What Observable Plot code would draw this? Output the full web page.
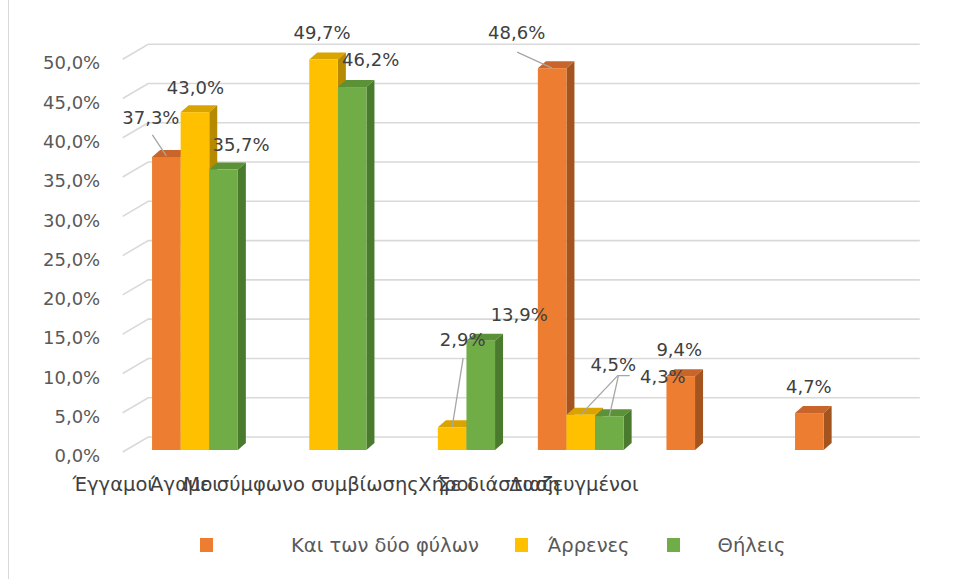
<!DOCTYPE html>
<html><head><meta charset="utf-8">
<script src="https://cdn.jsdelivr.net/npm/d3@7"></script>
<script src="https://cdn.jsdelivr.net/npm/@observablehq/plot@0.6"></script>
<style>
body{margin:0;background:#fff;font-family:"DejaVu Sans",sans-serif;}
#wrap{position:relative;width:955px;height:579px;overflow:hidden;background:#fff;}
#edge{position:absolute;left:8px;top:0;width:1px;height:579px;background:#d9d9d9;}
#chart{position:absolute;left:0;top:0;}
#legend{position:absolute;left:0;top:533px;height:24px;display:flex;align-items:center;font-size:19.5px;color:#595959;white-space:nowrap;}
#legend .sw{width:13px;height:14px;display:inline-block;}
</style></head><body>
<div id="wrap"><div id="edge"></div><div id="chart"></div><div id="legend"></div></div>
<script>
// ---- data ----
const categories = ["Έγγαμοι", "Άγαμοι", "Με σύμφωνο συμβίωσης", "Χήροι", "Σε διάσταση", "Διαζευγμένοι"];
const seriesNames = ["Και των δύο φύλων", "Άρρενες", "Θήλεις"];
const bothSexes = [37.3, null, null, 48.6, 9.4, 4.7];
const males     = [43.0, 49.7, 2.9, 4.5, null, null];
const females   = [35.7, 46.2, 13.9, 4.3, null, null];
const yTicks = [0, 5, 10, 15, 20, 25, 30, 35, 40, 45, 50];

// ---- styles ----
const frontColors = ["#ED7D31", "#FFC000", "#70AD47"];
const topColors   = ["#C9652A", "#D9A400", "#5B9238"];
const sideColors  = ["#A3541F", "#B58A00", "#4A7A2D"];
const FONT = "DejaVu Sans, sans-serif";

const seriesValues = [bothSexes, males, females];
const rows = [];
categories.forEach((cat, c) => seriesValues.forEach((vals, s) => {
  if (vals[c] != null) rows.push({c, s, cat, series: seriesNames[s], value: vals[c]});
}));

const BW = 0.2224, OFF = 0.334;
const bx1 = d => d.c - OFF + d.s * BW;
const bx2 = d => bx1(d) + BW;
const bxc = d => bx1(d) + BW / 2;
const DX = 8, DY = 7;

// label layout (pixel offsets from bar top centre)
const labelLayout = {
  "0-0": [-16, -39], "0-1": [0, -24], "0-2": [17, -25],
  "1-1": [-2, -27], "1-2": [18, -27],
  "2-1": [10, -87], "2-2": [38, -26],
  "3-0": [-36, -35], "3-1": [32, -50], "3-2": [53, -39],
  "4-0": [-2, -26], "5-0": [-1, -26]
};
const leaderLayout = {
  "0-0": [[-14, -22], [0, -1]],
  "3-0": [[-35, -16], [0, 0]],
  "2-1": [[11, -69], [0, 0]],
  "3-1": [[49, -39], [37, -39], [0, 0]],
  "3-2": [[9, -40], [0, 0]]
};
// category label layout: [dx from category centre, anchor]
const catLayout = [[-123, "start"], [-174, "start"], [-34, "end"], [-163, "start"], [-272, "start"], [-200, "end"]];

function walls(index, scales) {
  const g = d3.create("svg:g").attr("stroke", "#d9d9d9").attr("stroke-width", 1.6).attr("fill", "none");
  const xl = scales.x(-0.5), xr = scales.x(5.5);
  for (const t of yTicks) {
    const y = scales.y(t);
    g.append("path").attr("d", `M${xl - 8},${y + 2}L${xl + 17.5},${y - 13}L${xr + 17.5},${y - 13}`);
  }
  return g.node();
}

function depthFaces(index, scales) {
  const g = d3.create("svg:g");
  for (const d of rows) {
    const xa = scales.x(bx1(d)), xb = scales.x(bx2(d));
    const yt = scales.y(d.value), yb = scales.y(0);
    g.append("path").attr("d", `M${xa},${yt}L${xa + DX},${yt - DY}L${xb + DX},${yt - DY}L${xb},${yt}Z`).attr("fill", topColors[d.s]);
    g.append("path").attr("d", `M${xb},${yt}L${xb + DX},${yt - DY}L${xb + DX},${yb - DY}L${xb},${yb}Z`).attr("fill", sideColors[d.s]);
  }
  return g.node();
}

function leaders(index, scales) {
  const g = d3.create("svg:g").attr("stroke", "#a6a6a6").attr("stroke-width", 1.3).attr("fill", "none");
  for (const d of rows) {
    const pts = leaderLayout[`${d.c}-${d.s}`];
    if (!pts) continue;
    const cx = scales.x(bxc(d)), cy = scales.y(d.value);
    g.append("path").attr("d", "M" + pts.map(([dx, dy]) => `${cx + dx},${cy + dy}`).join("L"));
  }
  return g.node();
}

const fmt = v => v.toFixed(1).replace(".", ",") + "%";

const dataLabels = rows.map(d => {
  const [dx, dy] = labelLayout[`${d.c}-${d.s}`];
  return Plot.text([d], {x: bxc, y: "value", text: d => fmt(d.value), dx, dy,
    fill: "#404040", fontSize: 18, fontFamily: FONT});
});

const catLabels = categories.map((cat, c) => Plot.text([{c, cat}], {
  x: "c", y: () => 0, text: "cat", dx: catLayout[c][0], dy: 34, textAnchor: catLayout[c][1],
  fill: "#404040", fontSize: 19.5, fontFamily: FONT
}));

const chart = Plot.plot({
  width: 955, height: 505,
  marginTop: 57.2, marginBottom: 55, marginLeft: 130.7, marginRight: 52.7,
  style: {fontFamily: FONT, background: "transparent", overflow: "visible"},
  x: {type: "linear", domain: [-0.5, 5.5], axis: null},
  y: {domain: [0, 50], axis: null, label: null},
  color: {domain: seriesNames, range: frontColors},
  marks: [
    walls,
    Plot.axisY({ticks: yTicks, tickFormat: fmt, tickSize: 0, tickPadding: 31, dy: 6,
      fontSize: 18, fill: "#595959", label: null}),
    depthFaces,
    Plot.rect(rows, {x1: bx1, x2: bx2, y1: () => 0, y2: "value", fill: "series"}),
    leaders,
    ...dataLabels,
    ...catLabels
  ]
});
document.getElementById("chart").appendChild(chart);

// legend
const legendLayout = [[200, 78], [36, 20], [37, 38]]; // [gap before swatch, gap swatch->text]
const legend = document.getElementById("legend");
seriesNames.forEach((name, i) => {
  const sw = document.createElement("span");
  sw.className = "sw"; sw.style.background = frontColors[i]; sw.style.marginLeft = legendLayout[i][0] + "px";
  const tx = document.createElement("span");
  tx.textContent = name; tx.style.marginLeft = legendLayout[i][1] + "px";
  legend.appendChild(sw); legend.appendChild(tx);
});
</script>
</body></html>
